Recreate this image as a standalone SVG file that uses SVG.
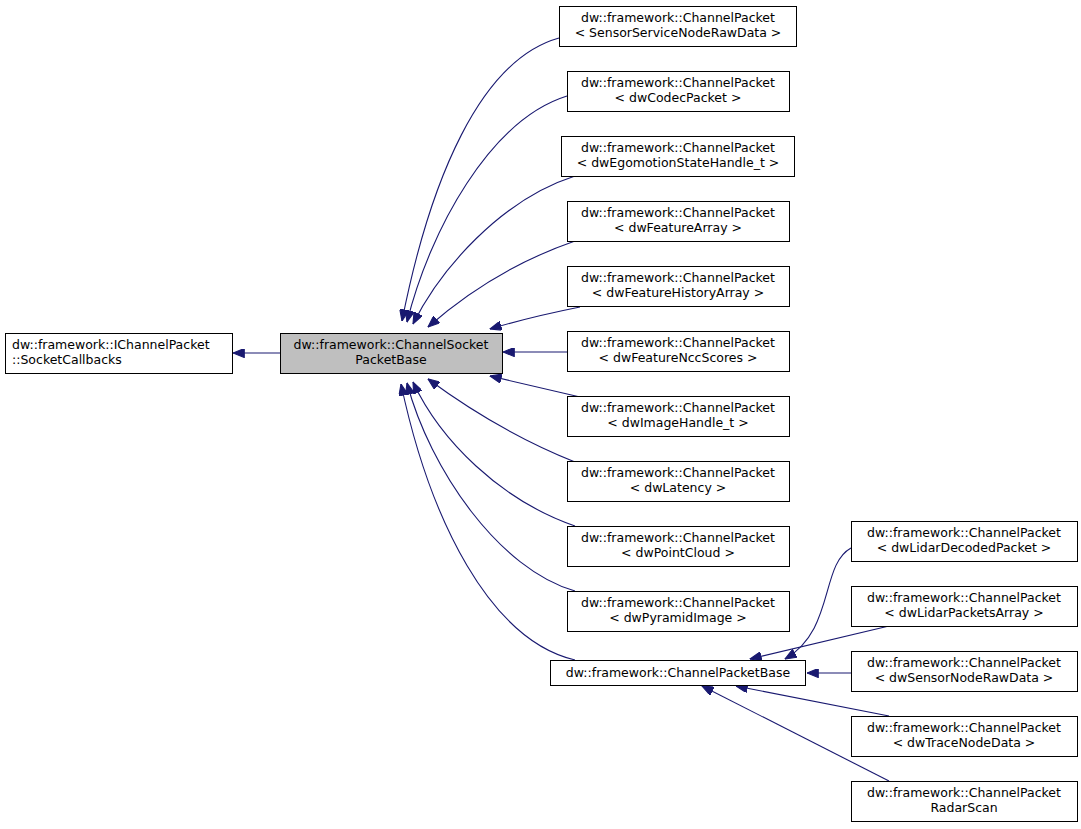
<svg xmlns="http://www.w3.org/2000/svg" width="1081" height="829" viewBox="0 0 1081 829">
<defs>
<style>
.n rect{fill:#fff;stroke:#000;stroke-width:1}
.g rect{fill:#bfbfbf}
text{font-family:"DejaVu Sans",sans-serif;font-size:12.5px;fill:#000;text-anchor:middle}
.e path{fill:none;stroke:#191970;stroke-width:1.1}
</style>
<marker id="a" viewBox="0 0 10 8" refX="10" refY="4" markerWidth="12" markerHeight="9" markerUnits="userSpaceOnUse" orient="auto-start-reverse"><path d="M0,0 L10,4 L0,8 z" fill="#191970" stroke="#191970"/></marker>
</defs>
<rect width="1081" height="829" fill="#fff"/>
<g class="e">
<path d="M280,353 L233,353" marker-end="url(#a)"/>
<path d="M559,38 C480,60 430,180 402,321" marker-end="url(#a)"/>
<path d="M567,96 C490,120 430,230 407,322" marker-end="url(#a)"/>
<path d="M575,176 C500,200 440,270 413,324" marker-end="url(#a)"/>
<path d="M575,241 C520,260 470,290 428,327" marker-end="url(#a)"/>
<path d="M580,307 C550,313 520,320 490,329" marker-end="url(#a)"/>
<path d="M567,352 L503,352" marker-end="url(#a)"/>
<path d="M580,397 L490,376" marker-end="url(#a)"/>
<path d="M575,462 C520,440 470,410 428,379" marker-end="url(#a)"/>
<path d="M575,526 C500,500 440,440 413,382" marker-end="url(#a)"/>
<path d="M575,591 C500,570 430,470 407,383" marker-end="url(#a)"/>
<path d="M575,660 C490,640 430,520 401,384" marker-end="url(#a)"/>
<path d="M851,548 C820,565 835,630 785,659" marker-end="url(#a)"/>
<path d="M889,626 L750,659" marker-end="url(#a)"/>
<path d="M851,673 L807,673" marker-end="url(#a)"/>
<path d="M889,716 L736,686" marker-end="url(#a)"/>
<path d="M889,781 L702,686" marker-end="url(#a)"/>
</g>
<g id="cb" class="n"><rect x="5.5" y="333.5" width="227" height="40"/><text x="12" y="349" style="text-anchor:start">dw::framework::IChannelPacket</text><text x="12" y="364" style="text-anchor:start">::SocketCallbacks</text></g>
<g id="sock" class="n g"><rect x="280.5" y="333.5" width="222" height="40"/><text x="391" y="349">dw::framework::ChannelSocket</text><text x="391" y="364">PacketBase</text></g>
<g id="n1" class="n"><rect x="559.5" y="6.5" width="237" height="40"/><text x="678" y="22">dw::framework::ChannelPacket</text><text x="678" y="37">&lt; SensorServiceNodeRawData &gt;</text></g>
<g id="n2" class="n"><rect x="567.5" y="71.5" width="222" height="40"/><text x="678" y="87">dw::framework::ChannelPacket</text><text x="678" y="102">&lt; dwCodecPacket &gt;</text></g>
<g id="n3" class="n"><rect x="561.5" y="136.5" width="233" height="40"/><text x="678" y="152">dw::framework::ChannelPacket</text><text x="678" y="167">&lt; dwEgomotionStateHandle_t &gt;</text></g>
<g id="n4" class="n"><rect x="567.5" y="201.5" width="222" height="40"/><text x="678" y="217">dw::framework::ChannelPacket</text><text x="678" y="232">&lt; dwFeatureArray &gt;</text></g>
<g id="n5" class="n"><rect x="567.5" y="266.5" width="222" height="40"/><text x="678" y="282">dw::framework::ChannelPacket</text><text x="678" y="297">&lt; dwFeatureHistoryArray &gt;</text></g>
<g id="n6" class="n"><rect x="567.5" y="331.5" width="222" height="40"/><text x="678" y="347">dw::framework::ChannelPacket</text><text x="678" y="362">&lt; dwFeatureNccScores &gt;</text></g>
<g id="n7" class="n"><rect x="567.5" y="396.5" width="222" height="40"/><text x="678" y="412">dw::framework::ChannelPacket</text><text x="678" y="427">&lt; dwImageHandle_t &gt;</text></g>
<g id="n8" class="n"><rect x="567.5" y="461.5" width="222" height="40"/><text x="678" y="477">dw::framework::ChannelPacket</text><text x="678" y="492">&lt; dwLatency &gt;</text></g>
<g id="n9" class="n"><rect x="567.5" y="526.5" width="222" height="40"/><text x="678" y="542">dw::framework::ChannelPacket</text><text x="678" y="557">&lt; dwPointCloud &gt;</text></g>
<g id="n10" class="n"><rect x="567.5" y="591.5" width="222" height="40"/><text x="678" y="607">dw::framework::ChannelPacket</text><text x="678" y="622">&lt; dwPyramidImage &gt;</text></g>
<g id="cpb" class="n"><rect x="550.5" y="660.5" width="255" height="25"/><text x="678" y="677">dw::framework::ChannelPacketBase</text></g>
<g id="r1" class="n"><rect x="851.5" y="521.5" width="226" height="40"/><text x="964" y="537">dw::framework::ChannelPacket</text><text x="964" y="552">&lt; dwLidarDecodedPacket &gt;</text></g>
<g id="r2" class="n"><rect x="851.5" y="586.5" width="226" height="40"/><text x="964" y="602">dw::framework::ChannelPacket</text><text x="964" y="617">&lt; dwLidarPacketsArray &gt;</text></g>
<g id="r3" class="n"><rect x="851.5" y="651.5" width="226" height="40"/><text x="964" y="667">dw::framework::ChannelPacket</text><text x="964" y="682">&lt; dwSensorNodeRawData &gt;</text></g>
<g id="r4" class="n"><rect x="851.5" y="716.5" width="226" height="40"/><text x="964" y="732">dw::framework::ChannelPacket</text><text x="964" y="747">&lt; dwTraceNodeData &gt;</text></g>
<g id="r5" class="n"><rect x="851.5" y="781.5" width="226" height="40"/><text x="964" y="797">dw::framework::ChannelPacket</text><text x="964" y="812">RadarScan</text></g>
</svg>
